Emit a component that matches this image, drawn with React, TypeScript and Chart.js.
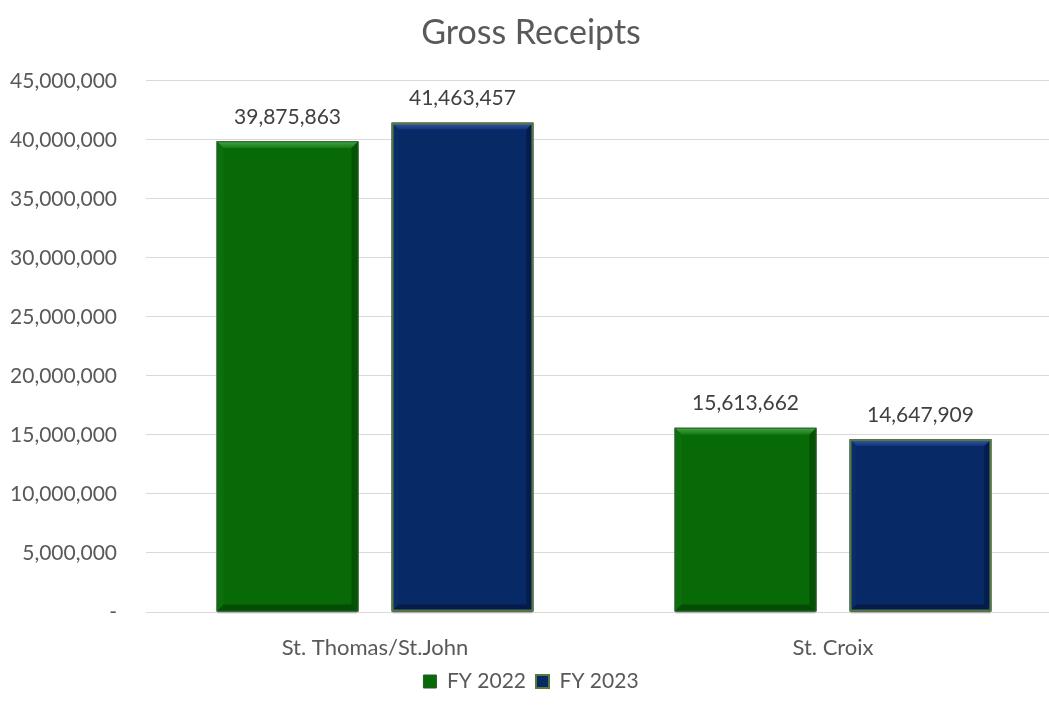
import React, { useEffect, useRef } from "react";
import { Chart, registerables } from "chart.js";

Chart.register(...registerables);

const categories = ["St. Thomas/St.John", "St. Croix"];
const seriesNames = ["FY 2022", "FY 2023"];
const fy2022 = [39875863, 15613662];
const fy2023 = [41463457, 14647909];
const yTicks = [0, 5000000, 10000000, 15000000, 20000000, 25000000, 30000000, 35000000, 40000000, 45000000];

const FONT = "Lato, 'Open Sans', sans-serif";
const TEXT = "#595959";

const palettes = [
  { body: "#076a07", top1: "#46a746", top2: "#137813", left: "#0b6f0b", right: "#045204", bottom: "#044d04", border: "#2b5a2b", bw: 1 },
  { body: "#072965", top1: "#3c5ca8", top2: "#10337a", left: "#0a2c6a", right: "#051d4c", bottom: "#051c48", border: "#557a3c", bw: 2 },
];

const bevelPlugin = {
  id: "bevel",
  afterDatasetsDraw(chart: any) {
    const ctx = chart.ctx;
    chart.data.datasets.forEach((ds: any, di: number) => {
      const meta = chart.getDatasetMeta(di);
      const p = palettes[di];
      meta.data.forEach((bar: any) => {
        const { x, y, base, width } = bar.getProps(["x", "y", "base", "width"], true);
        const l = x - width / 2, r = x + width / 2, t = y, b = base;
        const bv = 7;
        ctx.save();
        const g = ctx.createLinearGradient(0, t, 0, t + bv);
        g.addColorStop(0, p.top1);
        g.addColorStop(1, p.top2);
        ctx.fillStyle = g;
        ctx.beginPath();
        ctx.moveTo(l, t); ctx.lineTo(r, t); ctx.lineTo(r - bv, t + bv); ctx.lineTo(l + bv, t + bv); ctx.closePath();
        ctx.fill();
        ctx.fillStyle = p.left;
        ctx.beginPath();
        ctx.moveTo(l, t); ctx.lineTo(l + bv, t + bv); ctx.lineTo(l + bv, b - bv); ctx.lineTo(l, b); ctx.closePath();
        ctx.fill();
        ctx.fillStyle = p.right;
        ctx.beginPath();
        ctx.moveTo(r, t); ctx.lineTo(r - bv, t + bv); ctx.lineTo(r - bv, b - bv); ctx.lineTo(r, b); ctx.closePath();
        ctx.fill();
        ctx.fillStyle = p.bottom;
        ctx.beginPath();
        ctx.moveTo(l, b); ctx.lineTo(l + bv, b - bv); ctx.lineTo(r - bv, b - bv); ctx.lineTo(r, b); ctx.closePath();
        ctx.fill();
        ctx.strokeStyle = p.border;
        ctx.lineWidth = p.bw;
        ctx.strokeRect(l + p.bw / 2, t + p.bw / 2, width - p.bw, b - t - p.bw);
        ctx.fillStyle = "rgba(0,0,0,0.18)";
        ctx.fillRect(l + 1, b, width - 2, 2);
        ctx.restore();
      });
    });
  },
};

const labelPlugin = {
  id: "valueLabels",
  afterDatasetsDraw(chart: any) {
    const ctx = chart.ctx;
    ctx.save();
    ctx.font = `21px ${FONT}`;
    ctx.fillStyle = "#404040";
    ctx.textAlign = "center";
    ctx.textBaseline = "middle";
    chart.data.datasets.forEach((ds: any, di: number) => {
      const meta = chart.getDatasetMeta(di);
      meta.data.forEach((bar: any, i: number) => {
        const v = ds.data[i] as number;
        ctx.fillText(v.toLocaleString("en-US"), bar.x, bar.y - 24);
      });
    });
    ctx.restore();
  },
};

export default function App() {
  const ref = useRef<HTMLCanvasElement | null>(null);
  useEffect(() => {
    if (!ref.current) return;
    const chart = new Chart(ref.current, {
      type: "bar",
      data: {
        labels: categories,
        datasets: [
          { label: seriesNames[0], data: fy2022, backgroundColor: palettes[0].body, borderColor: palettes[0].border, borderWidth: 1 },
          { label: seriesNames[1], data: fy2023, backgroundColor: palettes[1].body, borderColor: palettes[1].border, borderWidth: 2 },
        ],
      },
      options: {
        responsive: false,
        animation: false,
        devicePixelRatio: 1,
        layout: { padding: { left: 0, right: 13, top: 0, bottom: 5 } },
        datasets: { bar: { categoryPercentage: 0.764, barPercentage: 0.811 } },
        plugins: {
          title: {
            display: true,
            text: "Gross Receipts",
            color: TEXT,
            font: { family: FONT, size: 34, weight: "normal" },
            padding: { top: 13, bottom: 27 },
          },
          legend: {
            position: "bottom",
            labels: {
              color: TEXT,
              font: { family: FONT, size: 21 },
              boxWidth: 13,
              boxHeight: 13,
              padding: 10,
            },
          },
          tooltip: { enabled: false },
        },
        scales: {
          x: {
            afterFit(scale: any) { scale.height = 49; },
            grid: { display: false },
            border: { display: true, color: "#d9d9d9" },
            ticks: { color: TEXT, font: { family: FONT, size: 22 }, padding: 15 },
          },
          y: {
            min: 0,
            max: 45000000,
            afterFit(scale: any) { scale.width = 146; },
            afterBuildTicks(scale: any) { scale.ticks = yTicks.map((v) => ({ value: v })); },
            grid: { color: "#d9d9d9", drawTicks: false },
            border: { display: false },
            ticks: {
              color: TEXT,
              font: { family: FONT, size: 21 },
              padding: 29,
              callback: (v: any) => (Number(v) === 0 ? "-" : Number(v).toLocaleString("en-US")),
            },
          },
        },
      },
      plugins: [bevelPlugin, labelPlugin],
    } as any);
    return () => chart.destroy();
  }, []);
  return (
    <div style={{ position: "fixed", left: 0, top: 0, width: 1049, height: 707, overflow: "hidden", background: "#fff" }}>
      <canvas ref={ref} width={1075} height={707} style={{ display: "block" }} />
    </div>
  );
}
